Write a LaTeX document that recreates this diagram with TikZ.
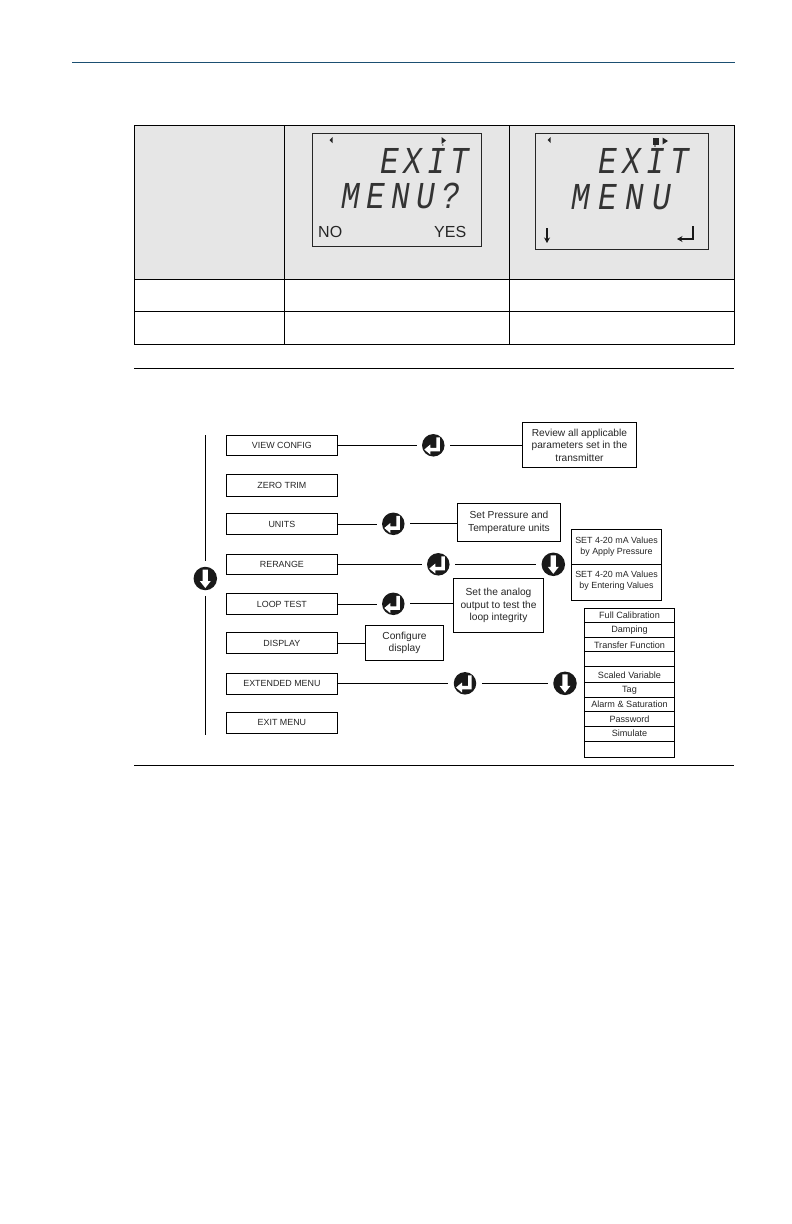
\documentclass[tikz,border=0pt]{standalone}
\usepackage{fontspec}
\usetikzlibrary{arrows.meta}
\setmainfont{Liberation Sans}
\newfontfamily\lcdA[LetterSpace=12.4,FakeStretch=.82]{Liberation Mono}
\newfontfamily\lcdB[LetterSpace=16.6,FakeStretch=.82]{Liberation Mono}
\newfontfamily\lcdC[LetterSpace=13.5,FakeStretch=.82]{Liberation Mono}
\newfontfamily\lcdD[LetterSpace=21.8,FakeStretch=.82]{Liberation Mono}
\definecolor{rulec}{HTML}{1B4F72}
\definecolor{cellgray}{HTML}{E6E6E6}
\tikzset{
  menubox/.style={draw,line width=.8pt,anchor=north west,inner sep=0pt,font=\fontsize{8.9}{10}\selectfont,text=black!85},
  notebox/.style={draw,line width=.8pt,align=center,inner sep=0pt,font=\fontsize{10.2}{12.4}\selectfont,text=black!85},
  setbox/.style={notebox,font=\fontsize{8.9}{11}\selectfont},
  listtext/.style={font=\fontsize{9.1}{10}\selectfont,text=black!85,inner sep=0pt},
  iconc/.style={circle,fill=black!90,minimum size=22.5pt,inner sep=0pt,outer sep=5.5pt},
  link/.style={line width=.8pt},
  tableline/.style={line width=.8pt},
  lcdtext/.style={text=black!80,inner sep=0pt,anchor=base west},
  softlabel/.style={font=\fontsize{16}{16}\selectfont,text=black!85,inner sep=0pt,anchor=base west}
}
\newcommand{\lcdsize}{\fontsize{38}{38}\selectfont\itshape}
\newcommand{\enterglyph}[1]{\fill[white,shift={(#1.center)}] (3,-8) -- (6.5,-8) -- (6.5,6) -- (-3,6) -- (-3,9.2) -- (-9,4.2) -- (-3,-.8) -- (-3,2.6) -- (3,2.6) -- cycle;}
\newcommand{\downglyph}[1]{\fill[white,shift={(#1.center)}] (-2.6,-9) -- (2.6,-9) -- (2.6,2.5) -- (5.5,2.5) -- (0,9.5) -- (-5.5,2.5) -- (-2.6,2.5) -- cycle;}
\begin{document}
\begin{tikzpicture}[x=1pt,y=-1pt]
\useasboundingbox (0,0) rectangle (792,1224);
% header rule
\coordinate (hl) at (72,62.5); \coordinate (hr) at (735,62.5);
\draw[rulec,line width=.9pt] (hl) -- (hr);
% table
\fill[cellgray] (134.3,125.3) rectangle (734.7,279.3);
\draw[tableline] (134.3,125.3) rectangle (734.7,344.3);
\draw[tableline] (134.3,279.3) -- (734.7,279.3);
\draw[tableline] (134.3,311.3) -- (734.7,311.3);
\draw[tableline] (284.3,125.3) -- (284.3,344.3);
\draw[tableline] (509.3,125.3) -- (509.3,344.3);
% LCD left
\draw[line width=.6pt,black!85] (312.3,133.3) rectangle (481.7,246.7);
\fill[black!85] (329.5,140) -- (332.5,137) -- (332.5,143) -- cycle;
\fill[black!85] (441.5,137) -- (446,140.5) -- (441.5,144) -- cycle;
\fill[black!85] (442.8,145) circle (.8);
\node[lcdtext,font=\lcdA\lcdsize] (lcda) at (380,173) {EXIT};
\node[lcdtext,font=\lcdB\lcdsize] (lcdb) at (341,208.5) {MENU?};
\node[softlabel] (no) at (318,237) {NO};
\node[softlabel] (yes) at (434,237) {YES};
% LCD right
\draw[line width=.6pt,black!85] (535.3,133.3) rectangle (708.7,249.3);
\fill[black!85] (547.5,140) -- (550.5,137) -- (550.5,143) -- cycle;
\fill[black!85] (652.5,138) rectangle (659,144.5);
\fill[black!85] (662.5,137.5) -- (668,141) -- (662.5,144.5) -- cycle;
\fill[black!85] (655,146) circle (.8);
\node[lcdtext,font=\lcdC\lcdsize] (lcdc) at (598.5,173) {EXIT};
\node[lcdtext,font=\lcdD\lcdsize] (lcdd) at (571.5,209) {MENU};
\draw[line width=1.4pt,black!90,-{Stealth[length=5.5pt,width=6pt]}] (547,228) -- (547,243);
\draw[line width=1.4pt,black!90,-{Stealth[length=5.5pt,width=6pt]}] (693,226) -- (693,239) -- (677,239);
% section rules
\draw[line width=.8pt] (134.3,368.3) -- (734,368.3);
\draw[line width=.8pt] (134.3,765.3) -- (734,765.3);
% menu boxes
\node[menubox,minimum width=110.4pt,minimum height=20pt] (view) at (226.3,435.3) {VIEW CONFIG};
\node[menubox,minimum width=110.4pt,minimum height=21.4pt] (zero) at (226.3,474.3) {ZERO TRIM};
\node[menubox,minimum width=110.4pt,minimum height=21pt] (units) at (226.3,513.3) {UNITS};
\node[menubox,minimum width=110.4pt,minimum height=20pt] (rerange) at (226.3,554.3) {RERANGE};
\node[menubox,minimum width=110.4pt,minimum height=21pt] (loop) at (226.3,593.3) {LOOP TEST};
\node[menubox,minimum width=110.4pt,minimum height=21pt] (display) at (226.3,632.3) {DISPLAY};
\node[menubox,minimum width=110.4pt,minimum height=21pt] (ext) at (226.3,672.8) {EXTENDED MENU};
\node[menubox,minimum width=110.4pt,minimum height=20.4pt] (exit) at (226.3,712.3) {EXIT MENU};
% icons
\node[iconc] (e1) at (433.3,445.3) {}; \enterglyph{e1}
\node[iconc] (e2) at (393.3,523.8) {}; \enterglyph{e2}
\node[iconc] (e3) at (438.3,564.3) {}; \enterglyph{e3}
\node[iconc] (e4) at (393.3,603.8) {}; \enterglyph{e4}
\node[iconc] (e5) at (465,683.3) {}; \enterglyph{e5}
\node[iconc,minimum size=23.5pt] (d0) at (205.3,578.5) {}; \downglyph{d0}
\node[iconc,minimum size=23.5pt] (d1) at (553.3,564.3) {}; \downglyph{d1}
\node[iconc,minimum size=23.5pt] (d2) at (565,683.3) {}; \downglyph{d2}
% notes
\node[notebox,minimum width=114.4pt,minimum height=44.6pt] (n1) at (579.5,445) {Review all applicable\\parameters set in the\\transmitter};
\node[notebox,minimum width=103.4pt,minimum height=38pt] (n2) at (509,522.3) {Set Pressure and\\Temperature units};
\node[notebox,minimum width=90.4pt,minimum height=53.6pt] (n3) at (498.5,605.5) {Set the analog\\output to test the\\loop integrity};
\node[notebox,minimum width=78.4pt,minimum height=35.4pt] (n4) at (404.5,643) {Configure\\display};
% set box
\node[setbox,minimum width=90.4pt,minimum height=35pt,text depth=3pt] (s1) at (616.5,546.8) {SET 4-20 mA Values\\by Apply Pressure};
\node[setbox,minimum width=90.4pt,minimum height=36.4pt,text depth=4.5pt] (s2) at (616.5,582.5) {SET 4-20 mA Values\\by Entering Values};
% list
\node[draw,line width=.8pt,minimum width=90.4pt,minimum height=149pt,inner sep=0pt] (list) at (629.5,682.8) {};
\foreach \yy in {622.3,637.7,651.3,666.3,682.3,697.3,711.3,726.3,741.3}
  \draw[line width=.8pt] (list.west |- 0,\yy) -- (list.east |- 0,\yy);
\node[listtext] (l1) at (629.5,615.5) {Full Calibration};
\node[listtext] (l2) at (629.5,630.5) {Damping};
\node[listtext] (l3) at (629.5,645.5) {Transfer Function};
\node[listtext] (l5) at (629.5,675.5) {Scaled Variable};
\node[listtext] (l6) at (629.5,690.5) {Tag};
\node[listtext] (l7) at (629.5,704.5) {Alarm \& Saturation};
\node[listtext] (l8) at (629.5,719) {Password};
\node[listtext] (l9) at (629.5,733.5) {Simulate};
% connectors
\draw[link] (view.east) -- (view.east -| e1.west);
\draw[link] (e1.east) -- (e1.east -| n1.west);
\draw[link] (units.east) -- (units.east -| e2.west);
\draw[link] (e2.east) -- (e2.east -| n2.west);
\draw[link] (rerange.east) -- (rerange.east -| e3.west);
\draw[link] (e3.east) -- (d1.west);
\draw[link] (loop.east) -- (loop.east -| e4.west);
\draw[link] (e4.east) -- (e4.east -| n3.west);
\draw[link] (display.east) -- (display.east -| n4.west);
\draw[link] (ext.east) -- (ext.east -| e5.west);
\draw[link] (e5.east) -- (d2.west);
\coordinate (vt) at (205.3,435); \coordinate (vb) at (205.3,735);
\draw[link] (vt) -- (d0.north);
\draw[link] (d0.south) -- (vb);
\end{tikzpicture}
\end{document}
